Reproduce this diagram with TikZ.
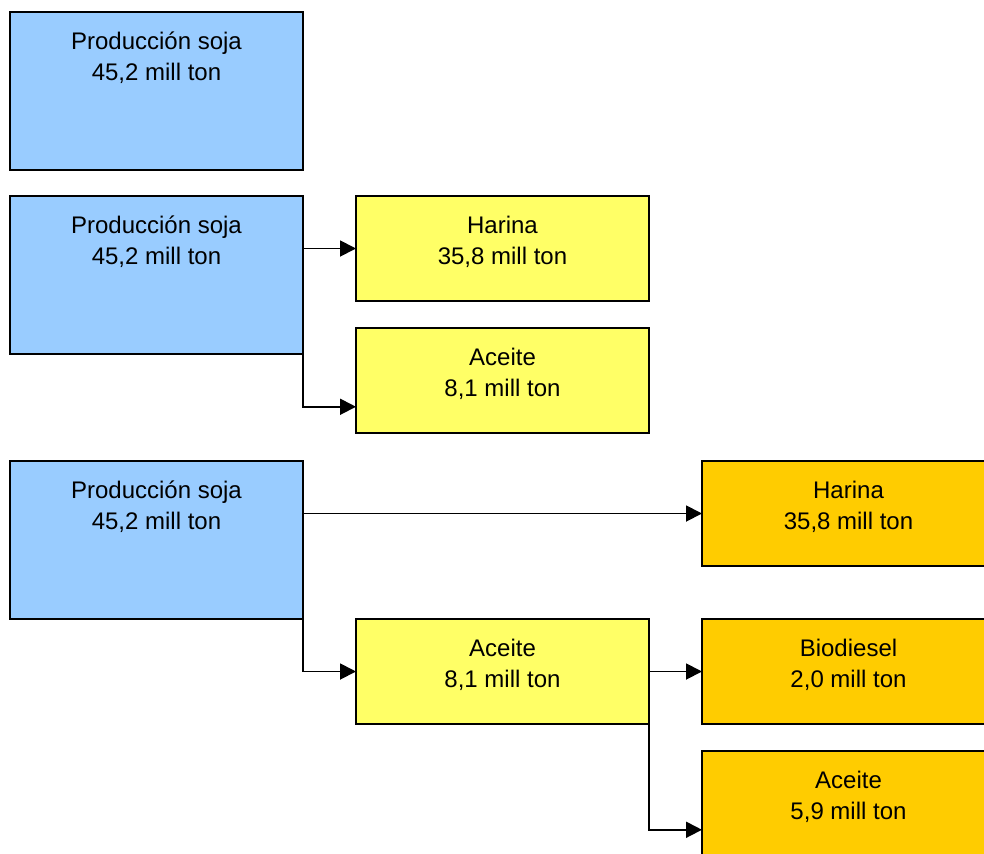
\documentclass[tikz,border=0pt]{standalone}
\usepackage{fontspec}
\setmainfont{Liberation Sans}
\usepackage{xcolor}
\usetikzlibrary{arrows.meta, positioning}
\definecolor{sojablue}{HTML}{99CCFF}
\definecolor{subyellow}{HTML}{FFFF66}
\definecolor{endorange}{HTML}{FFCC00}
\newcommand\boxlines[2]{\rule{0pt}{18pt}#1\\#2}
\tikzset{
  % Box styles
  tallbox/.style={rectangle, draw=black, line width=1.5pt, outer sep=0pt, minimum width=219.75pt, minimum height=118.5pt, inner sep=0pt, fill=#1},
  tallbox/.default={sojablue},
  flatbox/.style={rectangle, draw=black, line width=1.5pt, outer sep=0pt, minimum width=219.75pt, minimum height=78.75pt, inner sep=0pt, fill=#1},
  flatbox/.default={subyellow},
  boxtext/.style={anchor=north, inner sep=0pt, yshift=-9.75pt, align=center, font=\fontsize{18pt}{23.25pt}\selectfont},
  arrow/.style={-{Triangle[length=12pt, width=12pt]}, line width=1.4pt},
}
\begin{document}
\begin{tikzpicture}[x=0.75pt, y=-0.75pt]
    \useasboundingbox (0,0) rectangle (984,853);

    % Step 1
    \node[tallbox, anchor=north west, label={[boxtext]north:{\boxlines{Producción soja}{45,2 mill ton}}}] (soja1) at (10,12) {};

    % Step 2
    \node[tallbox, below=19.5pt of soja1, label={[boxtext]north:{\boxlines{Producción soja}{45,2 mill ton}}}] (soja2) {};
    \node[flatbox, below right=0pt and 39.75pt of soja2.north east, label={[boxtext]north:{\boxlines{Harina}{35,8 mill ton}}}] (harina1) {};
    \node[flatbox, below=20.25pt of harina1, label={[boxtext]north:{\boxlines{Aceite}{8,1 mill ton}}}] (aceite1) {};

    % Step 3
    \node[tallbox, below=80.25pt of soja2, label={[boxtext]north:{\boxlines{Producción soja}{45,2 mill ton}}}] (soja3) {};
    \node[flatbox, below right=0pt and 39.75pt of soja3.south east, label={[boxtext]north:{\boxlines{Aceite}{8,1 mill ton}}}] (aceite2) {};
    \node[flatbox=endorange, right=39.75pt of aceite2, label={[boxtext]north:{\boxlines{Biodiesel}{2,0 mill ton}}}] (biodiesel) {};
    \node[flatbox=endorange, above=39.75pt of biodiesel, label={[boxtext]north:{\boxlines{Harina}{35,8 mill ton}}}] (harina2) {};
    \node[flatbox=endorange, below=20.25pt of biodiesel, label={[boxtext]north:{\boxlines{Aceite}{5,9 mill ton}}}] (aceite3) {};

    % Arrows
    \draw[arrow] (soja2.east |- harina1.west) -- (harina1.west);
    \draw[arrow] (soja2.south east) |- ([yshift=-19.7pt]aceite1.west);
    \draw[arrow] (soja3.east |- harina2.west) -- (harina2.west);
    \draw[arrow] (soja3.south east) |- (aceite2.west);
    \draw[arrow] (aceite2) -- (biodiesel);
    \draw[arrow] (aceite2.south east) |- ([yshift=-19.7pt]aceite3.west);
\end{tikzpicture}
\end{document}
